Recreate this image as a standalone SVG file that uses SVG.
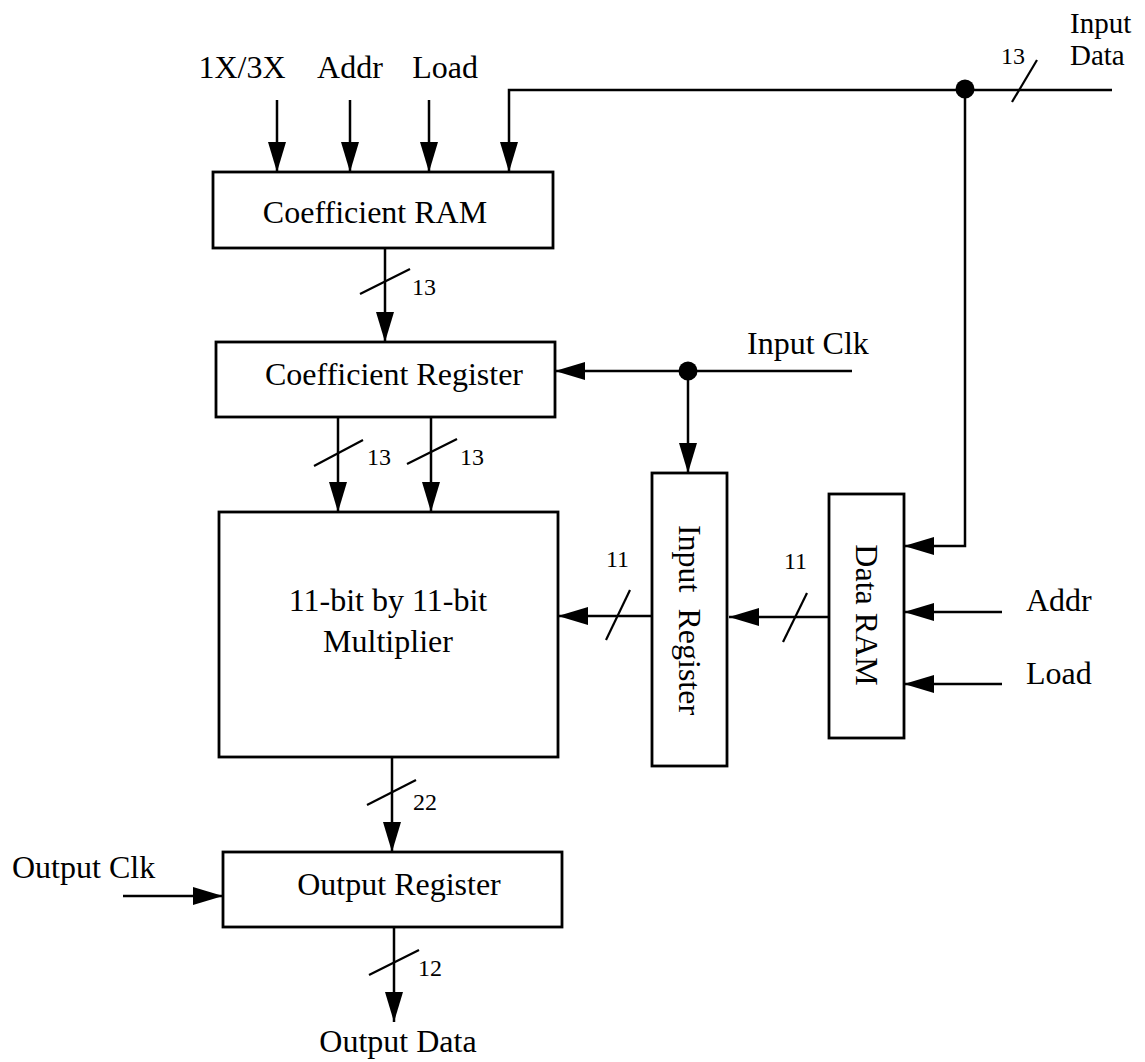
<svg xmlns="http://www.w3.org/2000/svg" width="1145" height="1062" viewBox="0 0 1145 1062">
<style>
  .box { fill: #fff; stroke: #000; stroke-width: 2.8; }
  .w { fill: none; stroke: #000; stroke-width: 2.5; }
  .sl { fill: none; stroke: #000; stroke-width: 2.2; }
  .t { font-family: "Liberation Serif", "Times New Roman", serif; font-size: 32px; fill: #000; }
  .s { font-family: "Liberation Serif", "Times New Roman", serif; font-size: 24px; fill: #000; }
  .c { text-anchor: middle; }
</style>
<defs>
  <marker id="ah" viewBox="0 0 30 18" refX="30" refY="9" markerWidth="30" markerHeight="18" markerUnits="userSpaceOnUse" orient="auto">
    <path d="M0,0 L30,9 L0,18 z" fill="#000"/>
  </marker>
</defs>
<rect width="1145" height="1062" fill="#fff"/>

<g id="connectors">
  <path class="w" d="M277,100 V172" marker-end="url(#ah)"/>
  <path class="w" d="M350,100 V172" marker-end="url(#ah)"/>
  <path class="w" d="M429,100 V172" marker-end="url(#ah)"/>
  <path class="w" d="M1112,90 H509 V172" marker-end="url(#ah)"/>
  <path class="w" d="M965,90 V546 H904" marker-end="url(#ah)"/>
  <circle cx="965" cy="89" r="9.5" fill="#000"/>
  <line class="sl" x1="1012" y1="102" x2="1037" y2="60"/>

  <path class="w" d="M385,248 V342" marker-end="url(#ah)"/>
  <line class="sl" x1="360" y1="294" x2="410" y2="269"/>

  <path class="w" d="M852,371 H555" marker-end="url(#ah)"/>
  <circle cx="688" cy="371" r="9.5" fill="#000"/>
  <path class="w" d="M688,371 V473" marker-end="url(#ah)"/>

  <path class="w" d="M338,417 V512" marker-end="url(#ah)"/>
  <path class="w" d="M431,417 V512" marker-end="url(#ah)"/>
  <line class="sl" x1="314" y1="466" x2="363" y2="440"/>
  <line class="sl" x1="407" y1="464" x2="457" y2="439"/>

  <path class="w" d="M652,616 H558" marker-end="url(#ah)"/>
  <line class="sl" x1="606" y1="640" x2="630" y2="590"/>
  <path class="w" d="M829,617 H729" marker-end="url(#ah)"/>
  <line class="sl" x1="783" y1="642" x2="807" y2="593"/>

  <path class="w" d="M1002,612 H904" marker-end="url(#ah)"/>
  <path class="w" d="M1002,684 H904" marker-end="url(#ah)"/>

  <path class="w" d="M392,757 V852" marker-end="url(#ah)"/>
  <line class="sl" x1="367" y1="805" x2="416" y2="780"/>

  <path class="w" d="M123,896 H223" marker-end="url(#ah)"/>

  <path class="w" d="M394,927 V1022" marker-end="url(#ah)"/>
  <line class="sl" x1="369" y1="975" x2="419" y2="950"/>
</g>

<g id="coefficient-ram">
  <rect class="box" x="213" y="172" width="340" height="76"/>
  <text class="t c" x="375" y="223">Coefficient RAM</text>
</g>
<g id="coefficient-register">
  <rect class="box" x="216" y="342" width="339" height="75"/>
  <text class="t c" x="394" y="385">Coefficient Register</text>
</g>
<g id="multiplier">
  <rect class="box" x="219" y="512" width="339" height="245"/>
  <text class="t c" x="388" y="611">11-bit by 11-bit</text>
  <text class="t c" x="388" y="652">Multiplier</text>
</g>
<g id="input-register">
  <rect class="box" x="652" y="473" width="75" height="293"/>
  <text class="t c" transform="translate(679,620) rotate(90)" x="0" y="0" xml:space="preserve">Input  Register</text>
</g>
<g id="data-ram">
  <rect class="box" x="829" y="494" width="75" height="244"/>
  <text class="t c" transform="translate(856,615) rotate(90)" x="0" y="0">Data RAM</text>
</g>
<g id="output-register">
  <rect class="box" x="223" y="852" width="339" height="75"/>
  <text class="t c" x="399" y="895">Output Register</text>
</g>

<g id="labels">
  <text class="t c" x="242" y="78">1X/3X</text>
  <text class="t c" x="350" y="78">Addr</text>
  <text class="t c" x="445" y="78">Load</text>
  <text class="t" x="1070" y="33" style="font-size:29px">Input</text>
  <text class="t" x="1070" y="65" style="font-size:29px">Data</text>
  <text class="s" x="1001" y="64">13</text>
  <text class="s" x="412" y="295">13</text>
  <text class="t" x="747" y="354">Input Clk</text>
  <text class="s" x="367" y="465">13</text>
  <text class="s" x="460" y="465">13</text>
  <text class="s" x="606" y="567">11</text>
  <text class="s" x="784" y="569">11</text>
  <text class="t" x="1026" y="611">Addr</text>
  <text class="t" x="1026" y="684">Load</text>
  <text class="s" x="413" y="810">22</text>
  <text class="t" x="12" y="878">Output Clk</text>
  <text class="s" x="418" y="976">12</text>
  <text class="t c" x="398" y="1052">Output Data</text>
</g>
</svg>
